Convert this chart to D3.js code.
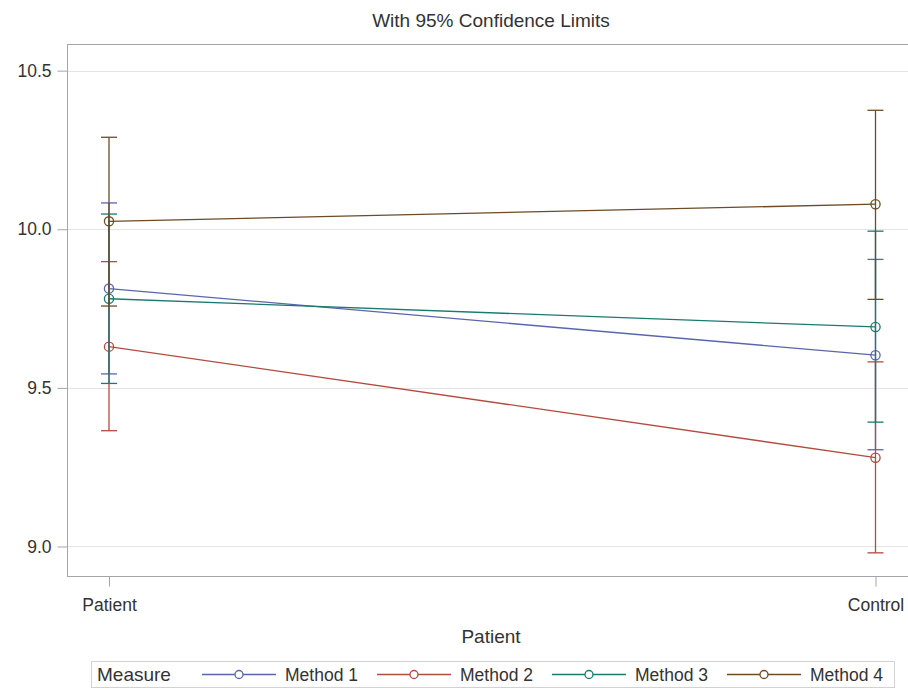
<!DOCTYPE html>
<html>
<head>
<meta charset="utf-8">
<script src="https://cdn.jsdelivr.net/npm/d3@7"></script>
<style>
  html, body { margin: 0; padding: 0; background: #fff; }
  text { font-family: "Liberation Sans", Arial, sans-serif; fill: #333; }
</style>
</head>
<body>
<svg id="chart" width="908" height="695"></svg>
<script>
// Group means with 95% confidence limits for each measurement method
const categories = ["Patient", "Control"];
const methods = ["Method 1", "Method 2", "Method 3", "Method 4"];
const meanValues = [
  [9.813, 9.603],
  [9.630, 9.280],
  [9.781, 9.692],
  [10.025, 10.079]
];
const lowerLimits = [
  [9.544, 9.305],
  [9.365, 8.980],
  [9.514, 9.392],
  [9.758, 9.779]
];
const upperLimits = [
  [10.083, 9.905],
  [9.898, 9.582],
  [10.048, 9.994],
  [10.290, 10.375]
];
const yTicks = [9.0, 9.5, 10.0, 10.5];
const colors = ["#5966ad", "#b44b41", "#1a7a70", "#6c4b26"];

const svg = d3.select("#chart");
const frame = { left: 67.5, top: 44.5, right: 912, bottom: 576.5 };

const x = d3.scalePoint().domain(categories).range([109, 875.5]);
const y = d3.scaleLinear().domain([8.907, 10.584]).range([576, 44]);

// Title
svg.append("text")
  .attr("x", 491).attr("y", 27)
  .attr("text-anchor", "middle")
  .style("font-size", "19px")
  .text("With 95% Confidence Limits");

// Horizontal grid lines
svg.append("g").selectAll("line").data(yTicks).join("line")
  .attr("x1", frame.left).attr("x2", frame.right)
  .attr("y1", d => Math.round(y(d)) + 0.5).attr("y2", d => Math.round(y(d)) + 0.5)
  .attr("stroke", "#e4e4e4").attr("stroke-width", 1);

// Plot frame
svg.append("rect")
  .attr("x", frame.left).attr("y", frame.top)
  .attr("width", frame.right - frame.left).attr("height", frame.bottom - frame.top)
  .attr("fill", "none").attr("stroke", "#a3a6ab").attr("stroke-width", 1);

// Y axis
const yAxis = svg.append("g")
  .attr("transform", `translate(${frame.left},0)`)
  .call(d3.axisLeft(y).tickValues(yTicks).tickFormat(d3.format(".1f")).tickSize(10).tickPadding(6).tickSizeOuter(0));
yAxis.select(".domain").remove();
yAxis.selectAll(".tick line").attr("stroke", "#a3a6ab");
yAxis.selectAll(".tick text")
  .style("font-size", "17.5px").style("font-family", "'Liberation Sans', Arial, sans-serif").attr("fill", "#333");

// X axis
const xAxis = svg.append("g")
  .attr("transform", `translate(0,${frame.bottom})`)
  .call(d3.axisBottom(x).tickSize(10).tickPadding(12).tickSizeOuter(0));
xAxis.select(".domain").remove();
xAxis.selectAll(".tick line").attr("stroke", "#a3a6ab");
xAxis.selectAll(".tick text")
  .style("font-size", "17.5px").style("font-family", "'Liberation Sans', Arial, sans-serif").attr("fill", "#333");

svg.append("text")
  .attr("x", 491).attr("y", 643)
  .attr("text-anchor", "middle")
  .style("font-size", "19px")
  .text("Patient");

// Series: connecting line, error bars and hollow markers
const capHalf = 8;
methods.forEach((m, i) => {
  const g = svg.append("g");
  const pts = categories.map((c, j) => ({ c, mean: meanValues[i][j], lo: lowerLimits[i][j], hi: upperLimits[i][j] }));
  g.append("path")
    .datum(pts)
    .attr("d", d3.line().x(d => x(d.c)).y(d => y(d.mean)))
    .attr("fill", "none").attr("stroke", colors[i]).attr("stroke-width", 1.3);
  pts.forEach(p => {
    const cx = x(p.c);
    g.append("line").attr("x1", cx).attr("x2", cx).attr("y1", y(p.lo)).attr("y2", y(p.hi))
      .attr("stroke", colors[i]).attr("stroke-width", 1.3);
    [p.lo, p.hi].forEach(v => {
      g.append("line").attr("x1", cx - capHalf).attr("x2", cx + capHalf).attr("y1", y(v)).attr("y2", y(v))
        .attr("stroke", colors[i]).attr("stroke-width", 1.3);
    });
  });
  g.selectAll("circle").data(pts).join("circle")
    .attr("cx", d => x(d.c)).attr("cy", d => y(d.mean)).attr("r", 4.6)
    .attr("fill", "none").attr("stroke", colors[i]).attr("stroke-width", 1.3);
});

// Legend
const legend = svg.append("g");
legend.append("rect")
  .attr("x", 91.5).attr("y", 661.5).attr("width", 803).attr("height", 26)
  .attr("fill", "none").attr("stroke", "#d2d2d2").attr("stroke-width", 1);
legend.append("text")
  .attr("x", 97).attr("y", 681)
  .style("font-size", "19px")
  .text("Measure");
methods.forEach((m, i) => {
  const x0 = 202 + i * 175;
  legend.append("line").attr("x1", x0).attr("x2", x0 + 74).attr("y1", 674.5).attr("y2", 674.5)
    .attr("stroke", colors[i]).attr("stroke-width", 1.3);
  legend.append("circle").attr("cx", x0 + 37).attr("cy", 674.5).attr("r", 4)
    .attr("fill", "#fff").attr("stroke", colors[i]).attr("stroke-width", 1.3);
  legend.append("text").attr("x", x0 + 83).attr("y", 681)
    .style("font-size", "17.5px")
    .text(m);
});
</script>
</body>
</html>
